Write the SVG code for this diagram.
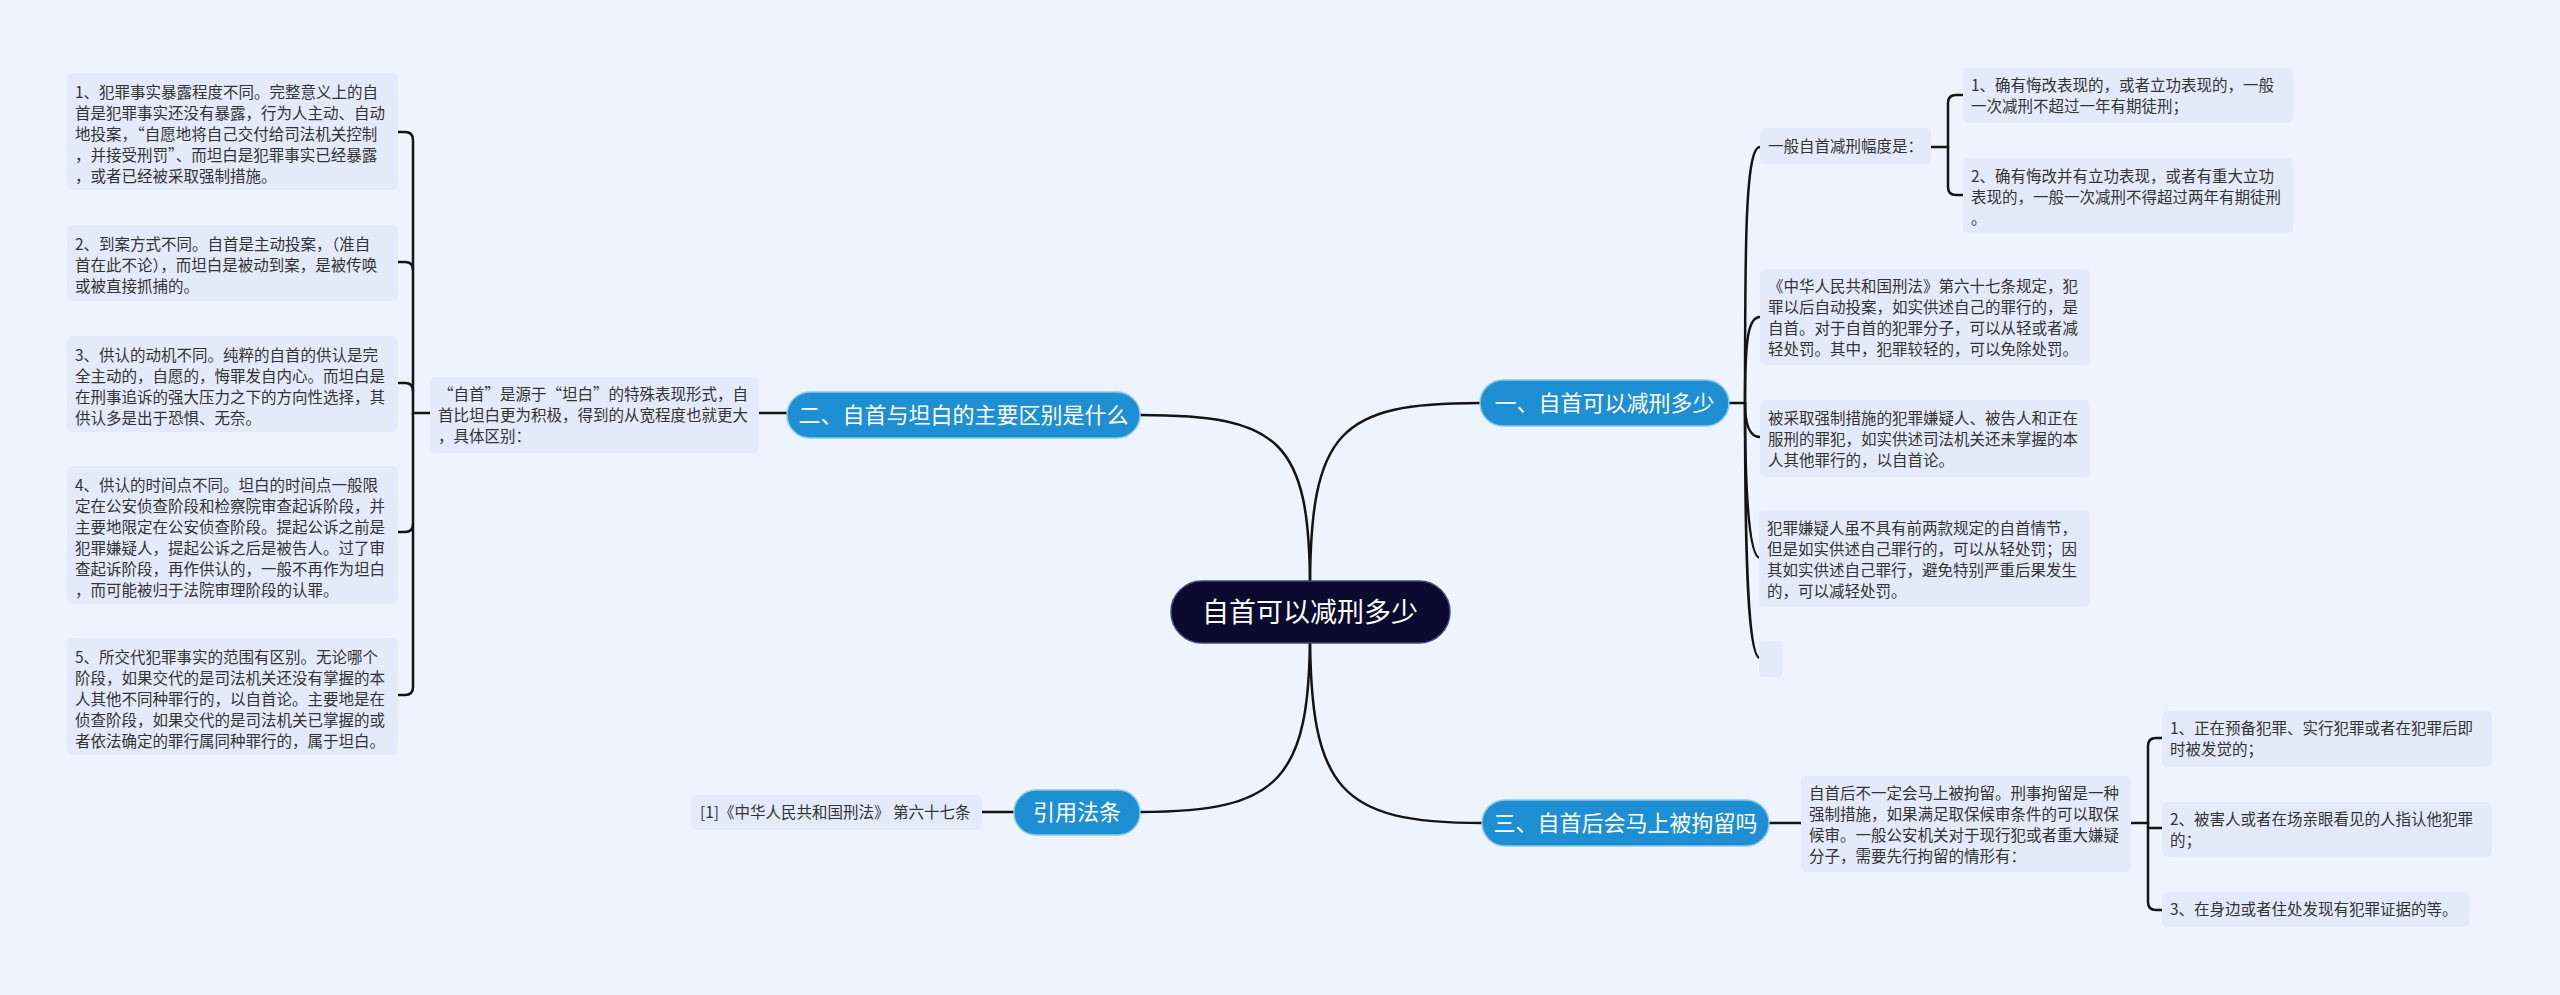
<svg xmlns="http://www.w3.org/2000/svg" width="2560" height="995" viewBox="0 0 2560 995">
<style>
text{font-family:"Noto Sans CJK SC","Liberation Sans",sans-serif;}
.leaf{fill:#e3ebfa;}
.lt{font-size:15.5px;fill:#333;}
.br{fill:#1d8fd2;stroke:#8cc8ee;stroke-width:1.5;}
.bt{font-size:22px;fill:#fff;text-anchor:middle;}
.c{fill:none;stroke:#141414;stroke-width:2.5;stroke-linecap:round;}
</style>
<rect width="2560" height="995" fill="#eef4fe"/>
<g id="connectors">
<path class="c" d="M1310 590 C1310 430 1340 403 1480 403"/>
<path class="c" d="M1310 630 C1310 790 1340 823 1482 823"/>
<path class="c" d="M1310 590 C1310 440 1280 415 1140 415"/>
<path class="c" d="M1310 630 C1310 780 1280 812 1140 812"/>
<path class="c" d="M759 413 H787"/>
<path class="c" d="M982 812 H1014"/>
<path class="c" d="M1769 823 H1801"/>
<!-- left bracket -->
<path class="c" d="M430 413 H413 V140 Q413 132 405 132 H398"/>
<path class="c" d="M413 270 Q413 262 405 262 H398"/>
<path class="c" d="M413 391 Q413 383 405 383 H398"/>
<path class="c" d="M413 413 V687 Q413 695 405 695 H398"/>
<path class="c" d="M413 524 Q413 532 405 532 H398"/>
<!-- 一 bracket -->
<path class="c" d="M1729 403 H1745"/>
<path class="c" d="M1745 403 C1745 250 1745 147 1760 147"/>
<path class="c" d="M1745 403 C1745 340 1748 317 1760 317"/>
<path class="c" d="M1745 403 C1745 420 1748 437 1760 437"/>
<path class="c" d="M1745 403 C1745 480 1748 558 1760 558"/>
<path class="c" d="M1745 403 C1745 560 1748 658 1760 658"/>
<path class="c" d="M1931 147 H1948 V103 Q1948 95 1956 95 H1963"/>
<path class="c" d="M1948 147 V187 Q1948 195 1956 195 H1963"/>
<!-- 三 bracket -->
<path class="c" d="M2131 823 H2148 V746 Q2148 738 2156 738 H2162"/>
<path class="c" d="M2148 823 V902 Q2148 910 2156 910 H2162"/>
<path class="c" d="M2148 828 H2162"/>
</g>
<g id="center"><rect x="1171" y="581" width="279" height="62" rx="31" fill="#0c0a2e" stroke="#3b4a7a" stroke-width="1.5"/><text x="1310" y="622" font-size="27" fill="#fff" text-anchor="middle">自首可以减刑多少</text></g>
<g id="b1"><rect class="br" x="1480" y="380" width="249" height="46" rx="23"/><text class="bt" x="1604.5" y="411">一、自首可以减刑多少</text></g>
<g id="b3"><rect class="br" x="1482" y="800" width="287" height="46" rx="23"/><text class="bt" x="1625.5" y="831">三、自首后会马上被拘留吗</text></g>
<g id="b2"><rect class="br" x="787" y="392" width="353" height="46" rx="23"/><text class="bt" x="963.5" y="423">二、自首与坦白的主要区别是什么</text></g>
<g id="b4"><rect class="br" x="1014" y="790" width="126" height="45" rx="22"/><text class="bt" x="1077" y="820">引用法条</text></g>
<g id="cite"><rect class="leaf" x="691" y="795" width="291" height="35" rx="5"/><text class="lt" x="700" y="818">[1]《中华人民共和国刑法》 第六十七条</text></g>
<g id="mid"><rect class="leaf" x="430" y="377" width="329" height="76" rx="5"/><text class="lt" x="438" y="400"><tspan x="438"> “自首”是源于“坦白”的特殊表现形式，自</tspan><tspan x="438" dy="21">首比坦白更为积极，得到的从宽程度也就更大</tspan><tspan x="438" dy="21">，具体区别：</tspan></text></g>
<g id="l1"><rect class="leaf" x="67" y="73" width="331" height="117" rx="5"/><text class="lt" x="75" y="98"><tspan x="75">1、犯罪事实暴露程度不同。完整意义上的自</tspan><tspan x="75" dy="21">首是犯罪事实还没有暴露，行为人主动、自动</tspan><tspan x="75" dy="21">地投案，“自愿地将自己交付给司法机关控制</tspan><tspan x="75" dy="21">，并接受刑罚”、而坦白是犯罪事实已经暴露</tspan><tspan x="75" dy="21">，或者已经被采取强制措施。</tspan></text></g>
<g id="l2"><rect class="leaf" x="67" y="225" width="331" height="76" rx="5"/><text class="lt" x="75" y="250"><tspan x="75">2、到案方式不同。自首是主动投案，（准自</tspan><tspan x="75" dy="21">首在此不论），而坦白是被动到案，是被传唤</tspan><tspan x="75" dy="21">或被直接抓捕的。</tspan></text></g>
<g id="l3"><rect class="leaf" x="67" y="336" width="331" height="96" rx="5"/><text class="lt" x="75" y="361"><tspan x="75">3、供认的动机不同。纯粹的自首的供认是完</tspan><tspan x="75" dy="21">全主动的，自愿的，悔罪发自内心。而坦白是</tspan><tspan x="75" dy="21">在刑事追诉的强大压力之下的方向性选择，其</tspan><tspan x="75" dy="21">供认多是出于恐惧、无奈。</tspan></text></g>
<g id="l4"><rect class="leaf" x="67" y="466" width="331" height="138" rx="5"/><text class="lt" x="75" y="491"><tspan x="75">4、供认的时间点不同。坦白的时间点一般限</tspan><tspan x="75" dy="21">定在公安侦查阶段和检察院审查起诉阶段，并</tspan><tspan x="75" dy="21">主要地限定在公安侦查阶段。提起公诉之前是</tspan><tspan x="75" dy="21">犯罪嫌疑人，提起公诉之后是被告人。过了审</tspan><tspan x="75" dy="21">查起诉阶段，再作供认的，一般不再作为坦白</tspan><tspan x="75" dy="21">，而可能被归于法院审理阶段的认罪。</tspan></text></g>
<g id="l5"><rect class="leaf" x="67" y="638" width="331" height="117" rx="5"/><text class="lt" x="75" y="663"><tspan x="75">5、所交代犯罪事实的范围有区别。无论哪个</tspan><tspan x="75" dy="21">阶段，如果交代的是司法机关还没有掌握的本</tspan><tspan x="75" dy="21">人其他不同种罪行的，以自首论。主要地是在</tspan><tspan x="75" dy="21">侦查阶段，如果交代的是司法机关已掌握的或</tspan><tspan x="75" dy="21">者依法确定的罪行属同种罪行的，属于坦白。</tspan></text></g>
<g id="r1"><rect class="leaf" x="1760" y="128" width="171" height="36" rx="5"/><text class="lt" x="1768" y="152">一般自首减刑幅度是：</text></g>
<g id="r1a"><rect class="leaf" x="1963" y="68" width="330" height="55" rx="5"/><text class="lt" x="1971" y="91"><tspan x="1971">1、确有悔改表现的，或者立功表现的，一般</tspan><tspan x="1971" dy="21">一次减刑不超过一年有期徒刑；</tspan></text></g>
<g id="r1b"><rect class="leaf" x="1963" y="158" width="330" height="75" rx="5"/><text class="lt" x="1971" y="182"><tspan x="1971">2、确有悔改并有立功表现，或者有重大立功</tspan><tspan x="1971" dy="21">表现的，一般一次减刑不得超过两年有期徒刑</tspan><tspan x="1971" dy="21">。</tspan></text></g>
<g id="r2"><rect class="leaf" x="1760" y="269" width="330" height="96" rx="5"/><text class="lt" x="1768" y="292"><tspan x="1768">《中华人民共和国刑法》第六十七条规定，犯</tspan><tspan x="1768" dy="21">罪以后自动投案，如实供述自己的罪行的，是</tspan><tspan x="1768" dy="21">自首。对于自首的犯罪分子，可以从轻或者减</tspan><tspan x="1768" dy="21">轻处罚。其中，犯罪较轻的，可以免除处罚。</tspan></text></g>
<g id="r3"><rect class="leaf" x="1760" y="400" width="330" height="77" rx="5"/><text class="lt" x="1768" y="424"><tspan x="1768">被采取强制措施的犯罪嫌疑人、被告人和正在</tspan><tspan x="1768" dy="21">服刑的罪犯，如实供述司法机关还未掌握的本</tspan><tspan x="1768" dy="21">人其他罪行的，以自首论。</tspan></text></g>
<g id="r4"><rect class="leaf" x="1759" y="510" width="331" height="97" rx="5"/><text class="lt" x="1767" y="534"><tspan x="1767">犯罪嫌疑人虽不具有前两款规定的自首情节，</tspan><tspan x="1767" dy="21">但是如实供述自己罪行的，可以从轻处罚；因</tspan><tspan x="1767" dy="21">其如实供述自己罪行，避免特别严重后果发生</tspan><tspan x="1767" dy="21">的，可以减轻处罚。</tspan></text></g>
<g id="r5"><rect class="leaf" x="1759" y="641" width="24" height="36" rx="5"/></g>
<g id="s0"><rect class="leaf" x="1801" y="776" width="330" height="96" rx="5"/><text class="lt" x="1809" y="799"><tspan x="1809">自首后不一定会马上被拘留。刑事拘留是一种</tspan><tspan x="1809" dy="21">强制措施，如果满足取保候审条件的可以取保</tspan><tspan x="1809" dy="21">候审。一般公安机关对于现行犯或者重大嫌疑</tspan><tspan x="1809" dy="21">分子，需要先行拘留的情形有：</tspan></text></g>
<g id="s1"><rect class="leaf" x="2162" y="711" width="330" height="56" rx="5"/><text class="lt" x="2170" y="734"><tspan x="2170">1、正在预备犯罪、实行犯罪或者在犯罪后即</tspan><tspan x="2170" dy="21">时被发觉的；</tspan></text></g>
<g id="s2"><rect class="leaf" x="2162" y="802" width="330" height="55" rx="5"/><text class="lt" x="2170" y="825"><tspan x="2170">2、被害人或者在场亲眼看见的人指认他犯罪</tspan><tspan x="2170" dy="21">的；</tspan></text></g>
<g id="s3"><rect class="leaf" x="2162" y="892" width="307" height="35" rx="5"/><text class="lt" x="2170" y="915">3、在身边或者住处发现有犯罪证据的等。</text></g>
</svg>
